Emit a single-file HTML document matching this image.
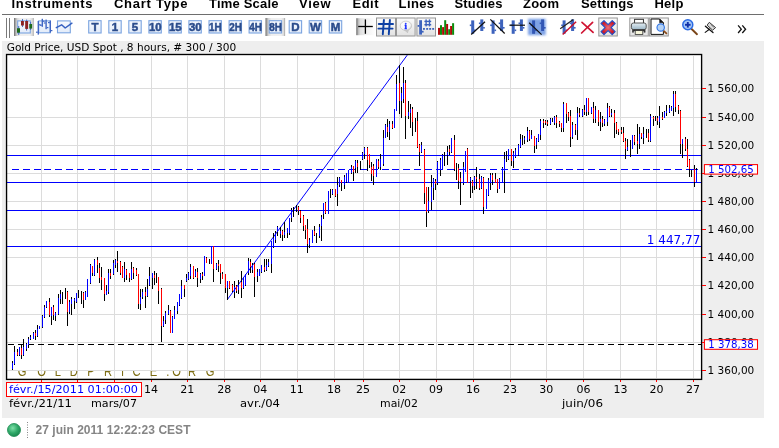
<!DOCTYPE html>
<html><head><meta charset="utf-8"><title>Gold Price chart</title>
<style>html,body{margin:0;padding:0;background:#fff;overflow:hidden}svg{display:block;will-change:transform}</style></head>
<body>
<svg width="779" height="448" viewBox="0 0 779 448">
<rect x="0" y="0" width="779" height="448" fill="#fff"/>
<rect x="2" y="41" width="762" height="377" fill="#eeeeee"/>
<rect x="2" y="14" width="762" height="1" fill="#6e6e6e"/>
<text x="11.5" y="7.6" font-family="'Liberation Sans','DejaVu Sans',sans-serif" font-size="13" fill="#000" font-weight="bold" text-anchor="start" textLength="81.0" lengthAdjust="spacing" >Instruments</text>
<text x="114" y="7.6" font-family="'Liberation Sans','DejaVu Sans',sans-serif" font-size="13" fill="#000" font-weight="bold" text-anchor="start" textLength="73.5" lengthAdjust="spacing" >Chart Type</text>
<text x="209" y="7.6" font-family="'Liberation Sans','DejaVu Sans',sans-serif" font-size="13" fill="#000" font-weight="bold" text-anchor="start" textLength="69.5" lengthAdjust="spacing" >Time Scale</text>
<text x="299" y="7.6" font-family="'Liberation Sans','DejaVu Sans',sans-serif" font-size="13" fill="#000" font-weight="bold" text-anchor="start" textLength="31.5" lengthAdjust="spacing" >View</text>
<text x="352.5" y="7.6" font-family="'Liberation Sans','DejaVu Sans',sans-serif" font-size="13" fill="#000" font-weight="bold" text-anchor="start" textLength="26.0" lengthAdjust="spacing" >Edit</text>
<text x="398.6" y="7.6" font-family="'Liberation Sans','DejaVu Sans',sans-serif" font-size="13" fill="#000" font-weight="bold" text-anchor="start" textLength="35.4" lengthAdjust="spacing" >Lines</text>
<text x="454.5" y="7.6" font-family="'Liberation Sans','DejaVu Sans',sans-serif" font-size="13" fill="#000" font-weight="bold" text-anchor="start" textLength="48.0" lengthAdjust="spacing" >Studies</text>
<text x="523" y="7.6" font-family="'Liberation Sans','DejaVu Sans',sans-serif" font-size="13" fill="#000" font-weight="bold" text-anchor="start" textLength="36" lengthAdjust="spacing" >Zoom</text>
<text x="581" y="7.6" font-family="'Liberation Sans','DejaVu Sans',sans-serif" font-size="13" fill="#000" font-weight="bold" text-anchor="start" textLength="52.5" lengthAdjust="spacing" >Settings</text>
<text x="654.4" y="7.6" font-family="'Liberation Sans','DejaVu Sans',sans-serif" font-size="13" fill="#000" font-weight="bold" text-anchor="start" textLength="29.1" lengthAdjust="spacing" >Help</text>
<defs><linearGradient id="pressL" x1="0" x2="1" y1="0" y2="0"><stop offset="0" stop-color="#6a6a6a"/><stop offset="0.07" stop-color="#a4a4a4"/><stop offset="0.16" stop-color="#d8d8d8"/><stop offset="0.3" stop-color="#efefef"/><stop offset="0.8" stop-color="#f1f1f1"/><stop offset="0.93" stop-color="#dadada"/><stop offset="1" stop-color="#9c9c9c"/></linearGradient><linearGradient id="pressP" x1="0" x2="1" y1="0" y2="0"><stop offset="0" stop-color="#505050"/><stop offset="0.08" stop-color="#b4b4b4"/><stop offset="0.2" stop-color="#dedede"/><stop offset="0.5" stop-color="#f0f0f0"/><stop offset="1" stop-color="#ffffff"/></linearGradient><linearGradient id="boxg" x1="0" x2="0" y1="0" y2="1"><stop offset="0" stop-color="#f7fafe"/><stop offset="1" stop-color="#e2ebf9"/></linearGradient><filter id="blur1" x="-20%" y="-20%" width="140%" height="140%"><feGaussianBlur stdDeviation="0.8"/></filter><filter id="blur05" x="-20%" y="-20%" width="140%" height="140%"><feGaussianBlur stdDeviation="0.45"/></filter><linearGradient id="btng" x1="0" x2="0" y1="0" y2="1"><stop offset="0" stop-color="#fbfbfb"/><stop offset="1" stop-color="#e2e2e2"/></linearGradient><radialGradient id="bub" cx="40%" cy="38%" r="70%"><stop offset="0" stop-color="#ffffff"/><stop offset="0.7" stop-color="#f4f4f4"/><stop offset="1" stop-color="#b8b8b8"/></radialGradient></defs>
<rect x="6" y="18" width="1" height="20" fill="#7a7a7a"/><rect x="9" y="18" width="1" height="20" fill="#7a7a7a"/>
<rect x="14" y="18" width="19.7" height="18" fill="url(#pressL)" filter="url(#blur05)"/>
<rect x="17.7" y="20.9" width="12.6" height="12.1" fill="url(#boxg)" stroke="#7ba4e0" stroke-width="1.1"/>
<g filter="url(#blur05)">
<rect x="18.3" y="26" width="0.9" height="9" fill="#3d63bd"/><rect x="22" y="19" width="0.9" height="8" fill="#3d63bd"/><rect x="26.2" y="19.5" width="0.9" height="11" fill="#3d63bd"/><rect x="30.2" y="22" width="0.9" height="8" fill="#3d63bd"/>
<rect x="17" y="28.2" width="3" height="4.5" fill="#1e6a1e"/><rect x="21" y="21" width="2.9" height="4.5" fill="#8c2222"/><rect x="25.2" y="21" width="2.9" height="7.9" fill="#8c2222"/><rect x="29.3" y="24" width="2.8" height="4.6" fill="#1e6a1e"/>
</g>
<rect x="38.7" y="20.9" width="11.6" height="11.9" fill="url(#boxg)" stroke="#7ba4e0" stroke-width="1.1"/>
<g filter="url(#blur05)" fill="#3f66c4">
<rect x="37.6" y="21" width="1.4" height="13.6"/><rect x="36" y="31.6" width="1.8" height="1.2"/><rect x="38.8" y="24.2" width="1.8" height="1.2"/>
<rect x="41.6" y="18.8" width="1.4" height="8"/><rect x="40" y="24.6" width="1.8" height="1.2"/><rect x="42.8" y="20.6" width="1.8" height="1.2"/>
<rect x="45.4" y="19.6" width="1.4" height="9.6"/><rect x="43.8" y="22.4" width="1.8" height="1.2"/><rect x="46.6" y="27" width="1.8" height="1.2"/>
<rect x="49.6" y="20.6" width="1.4" height="12"/><rect x="48" y="22" width="1.8" height="1.2"/><rect x="50.8" y="30" width="1.6" height="1.2"/>
</g>
<rect x="57.5" y="20.9" width="12.8" height="11.9" fill="url(#boxg)" stroke="#7ba4e0" stroke-width="1.1"/>
<polyline points="56.3,27.6 61.6,24.8 65.2,28 71.9,23.2" fill="none" stroke="#3560c0" stroke-width="1.5" stroke-linejoin="round" stroke-linecap="round"/>
<rect x="88.7" y="20.7" width="12.4" height="12.3" fill="url(#boxg)" stroke="#7ba4e0" stroke-width="1.1"/>
<text x="94.9" y="31" font-family="'Liberation Sans','DejaVu Sans',sans-serif" font-size="11.5" font-weight="bold" fill="#2b4c8c" stroke="#2b4c8c" stroke-width="0.5" text-anchor="middle">T</text>
<rect x="108.8" y="20.7" width="12.4" height="12.3" fill="url(#boxg)" stroke="#7ba4e0" stroke-width="1.1"/>
<text x="115.0" y="31" font-family="'Liberation Sans','DejaVu Sans',sans-serif" font-size="11.5" font-weight="bold" fill="#2b4c8c" stroke="#2b4c8c" stroke-width="0.5" text-anchor="middle">1</text>
<rect x="128.8" y="20.7" width="12.4" height="12.3" fill="url(#boxg)" stroke="#7ba4e0" stroke-width="1.1"/>
<text x="135.0" y="31" font-family="'Liberation Sans','DejaVu Sans',sans-serif" font-size="11.5" font-weight="bold" fill="#2b4c8c" stroke="#2b4c8c" stroke-width="0.5" text-anchor="middle">5</text>
<rect x="148.9" y="20.7" width="12.4" height="12.3" fill="url(#boxg)" stroke="#7ba4e0" stroke-width="1.1"/>
<text x="149.0" y="31" font-family="'Liberation Sans','DejaVu Sans',sans-serif" font-size="11.5" font-weight="bold" fill="#2b4c8c" stroke="#2b4c8c" stroke-width="0.5" textLength="12.6" lengthAdjust="spacingAndGlyphs">10</text>
<rect x="168.9" y="20.7" width="12.4" height="12.3" fill="url(#boxg)" stroke="#7ba4e0" stroke-width="1.1"/>
<text x="169.0" y="31" font-family="'Liberation Sans','DejaVu Sans',sans-serif" font-size="11.5" font-weight="bold" fill="#2b4c8c" stroke="#2b4c8c" stroke-width="0.5" textLength="12.6" lengthAdjust="spacingAndGlyphs">15</text>
<rect x="188.9" y="20.7" width="12.4" height="12.3" fill="url(#boxg)" stroke="#7ba4e0" stroke-width="1.1"/>
<text x="189.0" y="31" font-family="'Liberation Sans','DejaVu Sans',sans-serif" font-size="11.5" font-weight="bold" fill="#2b4c8c" stroke="#2b4c8c" stroke-width="0.5" textLength="12.6" lengthAdjust="spacingAndGlyphs">30</text>
<rect x="209.0" y="20.7" width="12.4" height="12.3" fill="url(#boxg)" stroke="#7ba4e0" stroke-width="1.1"/>
<text x="209.1" y="31" font-family="'Liberation Sans','DejaVu Sans',sans-serif" font-size="11.5" font-weight="bold" fill="#2b4c8c" stroke="#2b4c8c" stroke-width="0.5" textLength="12.6" lengthAdjust="spacingAndGlyphs">1H</text>
<rect x="229.1" y="20.7" width="12.4" height="12.3" fill="url(#boxg)" stroke="#7ba4e0" stroke-width="1.1"/>
<text x="229.2" y="31" font-family="'Liberation Sans','DejaVu Sans',sans-serif" font-size="11.5" font-weight="bold" fill="#2b4c8c" stroke="#2b4c8c" stroke-width="0.5" textLength="12.6" lengthAdjust="spacingAndGlyphs">2H</text>
<rect x="249.1" y="20.7" width="12.4" height="12.3" fill="url(#boxg)" stroke="#7ba4e0" stroke-width="1.1"/>
<text x="249.2" y="31" font-family="'Liberation Sans','DejaVu Sans',sans-serif" font-size="11.5" font-weight="bold" fill="#2b4c8c" stroke="#2b4c8c" stroke-width="0.5" textLength="12.6" lengthAdjust="spacingAndGlyphs">4H</text>
<rect x="265.5" y="18" width="19.6" height="18" fill="url(#pressL)" filter="url(#blur05)"/>
<rect x="269.2" y="20.7" width="12.4" height="12.3" fill="url(#boxg)" stroke="#7ba4e0" stroke-width="1.1"/>
<text x="269.3" y="31" font-family="'Liberation Sans','DejaVu Sans',sans-serif" font-size="11.5" font-weight="bold" fill="#2b4c8c" stroke="#2b4c8c" stroke-width="0.5" textLength="12.6" lengthAdjust="spacingAndGlyphs">8H</text>
<rect x="289.2" y="20.7" width="12.4" height="12.3" fill="url(#boxg)" stroke="#7ba4e0" stroke-width="1.1"/>
<text x="295.4" y="31" font-family="'Liberation Sans','DejaVu Sans',sans-serif" font-size="11.5" font-weight="bold" fill="#2b4c8c" stroke="#2b4c8c" stroke-width="0.5" text-anchor="middle">D</text>
<rect x="309.2" y="20.7" width="12.4" height="12.3" fill="url(#boxg)" stroke="#7ba4e0" stroke-width="1.1"/>
<text x="315.4" y="31" font-family="'Liberation Sans','DejaVu Sans',sans-serif" font-size="11.5" font-weight="bold" fill="#2b4c8c" stroke="#2b4c8c" stroke-width="0.5" text-anchor="middle">W</text>
<rect x="329.3" y="20.7" width="12.4" height="12.3" fill="url(#boxg)" stroke="#7ba4e0" stroke-width="1.1"/>
<text x="335.5" y="31" font-family="'Liberation Sans','DejaVu Sans',sans-serif" font-size="11.5" font-weight="bold" fill="#2b4c8c" stroke="#2b4c8c" stroke-width="0.5" text-anchor="middle">M</text>
<rect x="356.4" y="18.2" width="19" height="17" fill="url(#pressP)" filter="url(#blur05)"/>
<line x1="358.2" y1="26.5" x2="372.8" y2="26.5" stroke="#000" stroke-width="1.3"/><line x1="365.4" y1="19.4" x2="365.4" y2="33.8" stroke="#000" stroke-width="1.3"/>
<rect x="376.5" y="18" width="19" height="18" fill="url(#btng)" stroke="#969696" stroke-width="1"/>
<g stroke="#1040a4" stroke-width="1.95" stroke-linecap="round" filter="url(#blur05)"><line x1="378.8" y1="24" x2="393" y2="24"/><line x1="378.4" y1="28.6" x2="392.6" y2="28.6"/><line x1="383.9" y1="20" x2="382.8" y2="34.2"/><line x1="389.9" y1="20" x2="388.8" y2="34.2"/></g>
<rect x="396.5" y="18" width="18.600000000000023" height="18" fill="url(#btng)" stroke="#969696" stroke-width="1"/>
<path d="M404.2 29.8 L407.6 32.6 L408.4 29.4 Z" fill="#d0d0d0" stroke="#b4b4b4" stroke-width="0.6"/>
<ellipse cx="405.9" cy="25.8" rx="5.7" ry="4.7" fill="url(#bub)" stroke="#c2c2c2" stroke-width="0.7"/>
<text x="405.8" y="29" font-family="'Liberation Serif',serif" font-size="8.5" font-weight="bold" fill="#1428ff" stroke="#1428ff" stroke-width="0.4" text-anchor="middle">i</text>
<rect x="416.9" y="18" width="18.600000000000023" height="18" fill="url(#btng)" stroke="#969696" stroke-width="1"/>
<g filter="url(#blur05)" fill="#3d63bd"><rect x="419.2" y="20.2" width="2.8" height="14.4"/><rect x="417.6" y="25" width="1.8" height="1.8"/><rect x="421.8" y="30.8" width="1.8" height="1.8"/>
<rect x="424.4" y="20.7" width="6.8" height="1.4"/><rect x="424.4" y="24" width="6.8" height="1.4"/><rect x="425.4" y="19.4" width="1.4" height="7"/><rect x="428.8" y="19.4" width="1.4" height="7"/></g>
<g fill="#3d63bd"><rect x="423" y="28" width="1.9" height="1.8"/><rect x="426.2" y="28" width="1.9" height="1.8"/><rect x="429.2" y="28" width="1.9" height="1.8"/><rect x="432.2" y="28" width="1.9" height="1.8"/></g>
<rect x="438" y="27.9" width="2" height="6.9" fill="#b00808"/>
<rect x="440" y="25.2" width="2" height="9.6" fill="#0c8c0c"/>
<rect x="442.1" y="27.1" width="2" height="7.7" fill="#b00808"/>
<rect x="444.2" y="20.2" width="2" height="14.6" fill="#0c8c0c"/>
<rect x="446.1" y="24" width="2" height="10.8" fill="#b00808"/>
<rect x="448.2" y="29.2" width="2" height="5.6" fill="#0c8c0c"/>
<rect x="450.1" y="26" width="2" height="8.8" fill="#b00808"/>
<rect x="452.1" y="23.2" width="2" height="11.6" fill="#0c8c0c"/>
<g filter="url(#blur05)" fill="#3d63bd"><rect x="471.2" y="20.4" width="3" height="13.4"/><rect x="469.8" y="24.5" width="1.8" height="1.6"/><rect x="474.0" y="29.5" width="1.7" height="1.6"/><rect x="480.3" y="19.4" width="3" height="11.6"/><rect x="478.9" y="22.5" width="1.8" height="1.6"/><rect x="483.1" y="27" width="1.7" height="1.6"/></g>
<line x1="471.2" y1="34.5" x2="485" y2="21.8" stroke="#111" stroke-width="1.2"/>
<g filter="url(#blur05)" fill="#3d63bd"><rect x="491.6" y="20.4" width="3" height="13.4"/><rect x="490.2" y="24.5" width="1.8" height="1.6"/><rect x="494.4" y="29.5" width="1.7" height="1.6"/><rect x="500.1" y="19.4" width="3" height="11.6"/><rect x="498.7" y="22.5" width="1.8" height="1.6"/><rect x="502.9" y="27" width="1.7" height="1.6"/></g>
<line x1="490.3" y1="19.4" x2="504.7" y2="33.5" stroke="#111" stroke-width="1.2"/>
<g filter="url(#blur05)" fill="#3d63bd"><rect x="511.7" y="20.4" width="3" height="13.4"/><rect x="510.3" y="24.5" width="1.8" height="1.6"/><rect x="514.5" y="29.5" width="1.7" height="1.6"/><rect x="519.9" y="19.4" width="3" height="11.6"/><rect x="518.5" y="22.5" width="1.8" height="1.6"/><rect x="522.7" y="27" width="1.7" height="1.6"/></g>
<line x1="509.4" y1="25.2" x2="525" y2="25.2" stroke="#111" stroke-width="1.2"/>
<rect x="528" y="18.8" width="17.8" height="16.4" fill="#7fa3e6" filter="url(#blur1)"/>
<g filter="url(#blur05)" fill="#3156b4"><rect x="532.1" y="20.4" width="3" height="13.4"/><rect x="530.7" y="24.5" width="1.8" height="1.6"/><rect x="534.9" y="29.5" width="1.7" height="1.6"/><rect x="541.1" y="19.4" width="3" height="11.6"/><rect x="539.7" y="22.5" width="1.8" height="1.6"/><rect x="543.9" y="27" width="1.7" height="1.6"/></g>
<line x1="529.2" y1="22.8" x2="541.6" y2="34.6" stroke="#111" stroke-width="1.2"/>
<g filter="url(#blur05)" fill="#3d63bd"><rect x="562.6" y="20.4" width="3" height="13.4"/><rect x="561.2" y="24.5" width="1.8" height="1.6"/><rect x="565.4" y="29.5" width="1.7" height="1.6"/><rect x="571.1" y="19.4" width="3" height="11.6"/><rect x="569.7" y="22.5" width="1.8" height="1.6"/><rect x="573.9" y="27" width="1.7" height="1.6"/></g>
<line x1="560.2" y1="28.8" x2="573.3" y2="19.4" stroke="#222" stroke-width="1.2"/>
<line x1="562.7" y1="34.5" x2="576.1" y2="21.8" stroke="#c8102a" stroke-width="1.5"/>
<g stroke="#d01433" stroke-width="1.7" stroke-linecap="round"><line x1="582" y1="22.3" x2="593.1" y2="32.4"/><line x1="592.6" y1="22.3" x2="581.6" y2="33"/></g>
<rect x="598.8" y="18" width="18.5" height="18" fill="url(#btng)" stroke="#969696" stroke-width="1"/>
<defs><radialGradient id="xg" cx="50%" cy="50%" r="60%"><stop offset="0" stop-color="#e87078"/><stop offset="0.6" stop-color="#d02030"/><stop offset="1" stop-color="#c01020"/></radialGradient></defs>
<g transform="translate(608.1,27.6) rotate(45)"><path d="M-7.9 -2.1 H-2.1 V-7.9 H2.1 V-2.1 H7.9 V2.1 H2.1 V7.9 H-2.1 V2.1 H-7.9 Z" fill="url(#xg)" stroke="#1f50c8" stroke-width="1.1" stroke-linejoin="round"/></g>
<rect x="629.8" y="18" width="18.5" height="18" fill="url(#btng)" stroke="#969696" stroke-width="1"/>
<rect x="634.6" y="19.3" width="8.8" height="4.4" fill="#ffffff" stroke="#222" stroke-width="0.9"/>
<defs><linearGradient id="prg" x1="0" x2="0" y1="0" y2="1"><stop offset="0" stop-color="#e4eef4"/><stop offset="1" stop-color="#9cb6c6"/></linearGradient></defs>
<rect x="631.4" y="23" width="14.8" height="6.6" rx="2" fill="url(#prg)" stroke="#444" stroke-width="0.9"/>
<rect x="632.2" y="29.4" width="13.2" height="1.8" fill="#333"/><rect x="632.2" y="31" width="1.6" height="1.6" fill="#333"/><rect x="643.8" y="31" width="1.6" height="1.6" fill="#333"/>
<rect x="635.2" y="30.6" width="7.6" height="3.8" fill="#f6f6dc" stroke="#333" stroke-width="0.8"/>
<rect x="649.3" y="18" width="19.0" height="18" fill="url(#btng)" stroke="#969696" stroke-width="1"/>
<path d="M651 19 H659.6 L663.4 22.8 V34.4 H651 Z" fill="#fff" stroke="#111" stroke-width="1"/><path d="M659.6 19 V22.8 H663.4 Z" fill="#111" stroke="#111" stroke-width="0.5"/>
<line x1="663.4" y1="30.6" x2="666.4" y2="33.4" stroke="#8a4a1a" stroke-width="1.8" stroke-linecap="round"/><circle cx="660.7" cy="27.5" r="3.7" fill="#b4d2f6" stroke="#3a7ae4" stroke-width="1.2"/>
<line x1="691.6" y1="29" x2="697" y2="34.2" stroke="#7a4518" stroke-width="1.9" stroke-linecap="round"/>
<circle cx="687.8" cy="24.8" r="5" fill="#a4c6f6" stroke="#2a6ae4" stroke-width="1.5"/>
<g stroke="#1030a8" stroke-width="1.9"><line x1="685" y1="24.8" x2="690.6" y2="24.8"/><line x1="687.8" y1="22" x2="687.8" y2="27.6"/></g>
<g stroke-linecap="round"><path d="M709.6 22.6 L715.6 27.6 L712.6 30.2 L707.4 25.4 Z" fill="#dcdcdc" stroke="#222" stroke-width="0.9"/><line x1="705.4" y1="26.2" x2="713" y2="32.6" stroke="#111" stroke-width="1.3"/><line x1="709.4" y1="29.2" x2="705.2" y2="32.4" stroke="#111" stroke-width="1.1"/><line x1="711" y1="24.6" x2="713.6" y2="27" stroke="#555" stroke-width="0.8"/></g>
<g fill="none" stroke="#111" stroke-width="1.3"><polyline points="738.1,25.4 741.3,29.2 738.1,33"/><polyline points="742.3,25.4 745.6,29.2 742.3,33"/></g>
<text x="6.7" y="50.6" font-family="'DejaVu Sans','Liberation Sans',sans-serif" font-size="11" fill="#000" font-weight="normal" text-anchor="start" textLength="229.5" lengthAdjust="spacingAndGlyphs" >Gold Price, USD Spot , 8 hours, # 300 / 300</text>
<g shape-rendering="crispEdges">
<rect x="6" y="54" width="696" height="326" fill="#fff"/>
<rect x="41" y="56" width="1" height="322" fill="#dcdcdc"/>
<rect x="77" y="56" width="1" height="322" fill="#dcdcdc"/>
<rect x="114" y="56" width="1" height="322" fill="#dcdcdc"/>
<rect x="151" y="56" width="1" height="322" fill="#dcdcdc"/>
<rect x="187" y="56" width="1" height="322" fill="#dcdcdc"/>
<rect x="224" y="56" width="1" height="322" fill="#dcdcdc"/>
<rect x="260" y="56" width="1" height="322" fill="#dcdcdc"/>
<rect x="297" y="56" width="1" height="322" fill="#dcdcdc"/>
<rect x="334" y="56" width="1" height="322" fill="#dcdcdc"/>
<rect x="363" y="56" width="1" height="322" fill="#dcdcdc"/>
<rect x="399" y="56" width="1" height="322" fill="#dcdcdc"/>
<rect x="436" y="56" width="1" height="322" fill="#dcdcdc"/>
<rect x="473" y="56" width="1" height="322" fill="#dcdcdc"/>
<rect x="510" y="56" width="1" height="322" fill="#dcdcdc"/>
<rect x="546" y="56" width="1" height="322" fill="#dcdcdc"/>
<rect x="583" y="56" width="1" height="322" fill="#dcdcdc"/>
<rect x="620" y="56" width="1" height="322" fill="#dcdcdc"/>
<rect x="656" y="56" width="1" height="322" fill="#dcdcdc"/>
<rect x="693" y="56" width="1" height="322" fill="#dcdcdc"/>
<rect x="7" y="88" width="694" height="1" fill="#dcdcdc"/>
<rect x="7" y="117" width="694" height="1" fill="#dcdcdc"/>
<rect x="7" y="145" width="694" height="1" fill="#dcdcdc"/>
<rect x="7" y="173" width="694" height="1" fill="#dcdcdc"/>
<rect x="7" y="201" width="694" height="1" fill="#dcdcdc"/>
<rect x="7" y="229" width="694" height="1" fill="#dcdcdc"/>
<rect x="7" y="257" width="694" height="1" fill="#dcdcdc"/>
<rect x="7" y="285" width="694" height="1" fill="#dcdcdc"/>
<rect x="7" y="314" width="694" height="1" fill="#dcdcdc"/>
<rect x="7" y="342" width="694" height="1" fill="#dcdcdc"/>
<rect x="7" y="370" width="694" height="1" fill="#dcdcdc"/>
<rect x="7" y="155" width="694" height="1" fill="#0000ff"/>
<rect x="7" y="182" width="694" height="1" fill="#0000ff"/>
<rect x="7" y="210" width="694" height="1" fill="#0000ff"/>
<rect x="7" y="246" width="694" height="1" fill="#0000ff"/>
<line x1="11.8" y1="169.5" x2="697.5" y2="169.5" stroke="#0000ff" stroke-width="1" stroke-dasharray="7,3.875"/>
<rect x="691" y="169" width="7" height="1" fill="#0000ff"/>
<line x1="8" y1="344.5" x2="701" y2="344.5" stroke="#000" stroke-width="1" stroke-dasharray="6,4"/>
</g>
<line x1="227.4" y1="299.5" x2="407.2" y2="55.2" stroke="#0000ff" stroke-width="1"/>
<g shape-rendering="crispEdges">
<rect x="12" y="361" width="1" height="9" fill="#000"/>
<rect x="12" y="363" width="1" height="6" fill="#0000ff"/>
<rect x="14" y="346" width="1" height="19" fill="#000"/>
<rect x="14" y="352" width="1" height="12" fill="#0000ff"/>
<rect x="17" y="349" width="1" height="7" fill="#000"/>
<rect x="17" y="352" width="1" height="3" fill="#ff0000"/>
<rect x="19" y="347" width="1" height="9" fill="#000"/>
<rect x="19" y="347" width="1" height="8" fill="#0000ff"/>
<rect x="21" y="344" width="1" height="15" fill="#000"/>
<rect x="21" y="348" width="1" height="7" fill="#ff0000"/>
<rect x="23" y="339" width="1" height="17" fill="#000"/>
<rect x="23" y="347" width="1" height="8" fill="#0000ff"/>
<rect x="26" y="343" width="1" height="8" fill="#000"/>
<rect x="26" y="344" width="1" height="5" fill="#0000ff"/>
<rect x="28" y="337" width="1" height="11" fill="#000"/>
<rect x="28" y="339" width="1" height="6" fill="#0000ff"/>
<rect x="30" y="335" width="1" height="5" fill="#000"/>
<rect x="30" y="337" width="1" height="2" fill="#0000ff"/>
<rect x="33" y="332" width="1" height="7" fill="#000"/>
<rect x="33" y="333" width="1" height="6" fill="#0000ff"/>
<rect x="35" y="330" width="1" height="10" fill="#000"/>
<rect x="35" y="333" width="1" height="3" fill="#ff0000"/>
<rect x="37" y="325" width="1" height="12" fill="#000"/>
<rect x="37" y="329" width="1" height="7" fill="#0000ff"/>
<rect x="39" y="326" width="1" height="3" fill="#000"/>
<rect x="39" y="326" width="1" height="3" fill="#0000ff"/>
<rect x="42" y="315" width="1" height="13" fill="#000"/>
<rect x="42" y="316" width="1" height="11" fill="#0000ff"/>
<rect x="44" y="305" width="1" height="13" fill="#000"/>
<rect x="44" y="307" width="1" height="10" fill="#0000ff"/>
<rect x="46" y="301" width="1" height="7" fill="#000"/>
<rect x="46" y="301" width="1" height="6" fill="#0000ff"/>
<rect x="49" y="298" width="1" height="19" fill="#000"/>
<rect x="49" y="302" width="1" height="13" fill="#ff0000"/>
<rect x="51" y="307" width="1" height="18" fill="#000"/>
<rect x="51" y="307" width="1" height="9" fill="#0000ff"/>
<rect x="53" y="305" width="1" height="15" fill="#000"/>
<rect x="53" y="307" width="1" height="8" fill="#ff0000"/>
<rect x="55" y="312" width="1" height="9" fill="#000"/>
<rect x="55" y="313" width="1" height="3" fill="#0000ff"/>
<rect x="58" y="294" width="1" height="21" fill="#000"/>
<rect x="58" y="298" width="1" height="16" fill="#0000ff"/>
<rect x="60" y="290" width="1" height="14" fill="#000"/>
<rect x="60" y="294" width="1" height="5" fill="#0000ff"/>
<rect x="62" y="292" width="1" height="12" fill="#000"/>
<rect x="65" y="288" width="1" height="11" fill="#000"/>
<rect x="67" y="291" width="1" height="35" fill="#000"/>
<rect x="67" y="292" width="1" height="20" fill="#ff0000"/>
<rect x="69" y="300" width="1" height="14" fill="#000"/>
<rect x="69" y="302" width="1" height="10" fill="#0000ff"/>
<rect x="71" y="297" width="1" height="18" fill="#000"/>
<rect x="71" y="299" width="1" height="5" fill="#0000ff"/>
<rect x="74" y="298" width="1" height="11" fill="#000"/>
<rect x="74" y="299" width="1" height="2" fill="#0000ff"/>
<rect x="76" y="293" width="1" height="10" fill="#000"/>
<rect x="76" y="293" width="1" height="9" fill="#0000ff"/>
<rect x="78" y="290" width="1" height="8" fill="#000"/>
<rect x="81" y="291" width="1" height="13" fill="#000"/>
<rect x="83" y="292" width="1" height="16" fill="#000"/>
<rect x="83" y="293" width="1" height="7" fill="#ff0000"/>
<rect x="85" y="291" width="1" height="9" fill="#000"/>
<rect x="85" y="292" width="1" height="8" fill="#0000ff"/>
<rect x="87" y="279" width="1" height="18" fill="#000"/>
<rect x="87" y="279" width="1" height="18" fill="#0000ff"/>
<rect x="90" y="264" width="1" height="20" fill="#000"/>
<rect x="90" y="265" width="1" height="18" fill="#0000ff"/>
<rect x="92" y="266" width="1" height="10" fill="#000"/>
<rect x="92" y="266" width="1" height="7" fill="#ff0000"/>
<rect x="94" y="259" width="1" height="17" fill="#000"/>
<rect x="94" y="260" width="1" height="15" fill="#0000ff"/>
<rect x="97" y="257" width="1" height="16" fill="#000"/>
<rect x="97" y="260" width="1" height="5" fill="#ff0000"/>
<rect x="99" y="263" width="1" height="20" fill="#000"/>
<rect x="99" y="268" width="1" height="10" fill="#ff0000"/>
<rect x="101" y="267" width="1" height="23" fill="#000"/>
<rect x="101" y="277" width="1" height="3" fill="#ff0000"/>
<rect x="104" y="278" width="1" height="23" fill="#000"/>
<rect x="104" y="278" width="1" height="16" fill="#ff0000"/>
<rect x="106" y="285" width="1" height="10" fill="#000"/>
<rect x="106" y="291" width="1" height="4" fill="#0000ff"/>
<rect x="108" y="269" width="1" height="25" fill="#000"/>
<rect x="108" y="273" width="1" height="19" fill="#0000ff"/>
<rect x="110" y="269" width="1" height="10" fill="#000"/>
<rect x="110" y="273" width="1" height="3" fill="#ff0000"/>
<rect x="113" y="260" width="1" height="15" fill="#000"/>
<rect x="113" y="263" width="1" height="11" fill="#0000ff"/>
<rect x="115" y="259" width="1" height="9" fill="#000"/>
<rect x="115" y="260" width="1" height="5" fill="#0000ff"/>
<rect x="117" y="251" width="1" height="21" fill="#000"/>
<rect x="117" y="261" width="1" height="2" fill="#ff0000"/>
<rect x="120" y="261" width="1" height="14" fill="#000"/>
<rect x="120" y="262" width="1" height="11" fill="#ff0000"/>
<rect x="122" y="266" width="1" height="12" fill="#000"/>
<rect x="122" y="267" width="1" height="11" fill="#ff0000"/>
<rect x="124" y="262" width="1" height="20" fill="#000"/>
<rect x="124" y="269" width="1" height="9" fill="#0000ff"/>
<rect x="126" y="269" width="1" height="11" fill="#000"/>
<rect x="126" y="270" width="1" height="5" fill="#ff0000"/>
<rect x="129" y="273" width="1" height="9" fill="#000"/>
<rect x="129" y="273" width="1" height="5" fill="#ff0000"/>
<rect x="131" y="262" width="1" height="18" fill="#000"/>
<rect x="131" y="269" width="1" height="10" fill="#0000ff"/>
<rect x="133" y="267" width="1" height="12" fill="#000"/>
<rect x="133" y="268" width="1" height="5" fill="#ff0000"/>
<rect x="136" y="268" width="1" height="8" fill="#000"/>
<rect x="136" y="270" width="1" height="5" fill="#ff0000"/>
<rect x="138" y="274" width="1" height="35" fill="#000"/>
<rect x="138" y="274" width="1" height="30" fill="#ff0000"/>
<rect x="140" y="289" width="1" height="21" fill="#000"/>
<rect x="140" y="297" width="1" height="7" fill="#0000ff"/>
<rect x="142" y="289" width="1" height="10" fill="#000"/>
<rect x="142" y="292" width="1" height="5" fill="#0000ff"/>
<rect x="145" y="287" width="1" height="21" fill="#000"/>
<rect x="145" y="292" width="1" height="4" fill="#ff0000"/>
<rect x="147" y="279" width="1" height="18" fill="#000"/>
<rect x="147" y="289" width="1" height="7" fill="#0000ff"/>
<rect x="149" y="267" width="1" height="19" fill="#000"/>
<rect x="149" y="276" width="1" height="9" fill="#0000ff"/>
<rect x="152" y="273" width="1" height="16" fill="#000"/>
<rect x="152" y="273" width="1" height="5" fill="#0000ff"/>
<rect x="154" y="271" width="1" height="14" fill="#000"/>
<rect x="154" y="275" width="1" height="3" fill="#ff0000"/>
<rect x="156" y="273" width="1" height="10" fill="#000"/>
<rect x="158" y="277" width="1" height="27" fill="#000"/>
<rect x="158" y="277" width="1" height="14" fill="#ff0000"/>
<rect x="161" y="288" width="1" height="54" fill="#000"/>
<rect x="161" y="289" width="1" height="37" fill="#ff0000"/>
<rect x="163" y="316" width="1" height="11" fill="#000"/>
<rect x="163" y="321" width="1" height="5" fill="#0000ff"/>
<rect x="165" y="311" width="1" height="13" fill="#000"/>
<rect x="165" y="313" width="1" height="7" fill="#0000ff"/>
<rect x="168" y="305" width="1" height="10" fill="#000"/>
<rect x="168" y="310" width="1" height="4" fill="#0000ff"/>
<rect x="170" y="310" width="1" height="23" fill="#000"/>
<rect x="170" y="311" width="1" height="22" fill="#ff0000"/>
<rect x="172" y="316" width="1" height="17" fill="#000"/>
<rect x="172" y="317" width="1" height="16" fill="#0000ff"/>
<rect x="174" y="306" width="1" height="13" fill="#000"/>
<rect x="174" y="310" width="1" height="9" fill="#0000ff"/>
<rect x="177" y="302" width="1" height="12" fill="#000"/>
<rect x="177" y="302" width="1" height="9" fill="#0000ff"/>
<rect x="179" y="294" width="1" height="12" fill="#000"/>
<rect x="179" y="294" width="1" height="11" fill="#0000ff"/>
<rect x="181" y="280" width="1" height="19" fill="#000"/>
<rect x="181" y="286" width="1" height="12" fill="#0000ff"/>
<rect x="184" y="285" width="1" height="12" fill="#000"/>
<rect x="184" y="285" width="1" height="4" fill="#ff0000"/>
<rect x="186" y="274" width="1" height="8" fill="#000"/>
<rect x="186" y="278" width="1" height="3" fill="#0000ff"/>
<rect x="188" y="272" width="1" height="8" fill="#000"/>
<rect x="188" y="273" width="1" height="6" fill="#0000ff"/>
<rect x="190" y="264" width="1" height="15" fill="#000"/>
<rect x="190" y="267" width="1" height="9" fill="#0000ff"/>
<rect x="193" y="266" width="1" height="13" fill="#000"/>
<rect x="193" y="266" width="1" height="12" fill="#ff0000"/>
<rect x="195" y="269" width="1" height="8" fill="#000"/>
<rect x="195" y="271" width="1" height="5" fill="#0000ff"/>
<rect x="197" y="268" width="1" height="19" fill="#000"/>
<rect x="197" y="272" width="1" height="6" fill="#ff0000"/>
<rect x="200" y="273" width="1" height="10" fill="#000"/>
<rect x="200" y="274" width="1" height="5" fill="#0000ff"/>
<rect x="202" y="272" width="1" height="8" fill="#000"/>
<rect x="202" y="274" width="1" height="2" fill="#ff0000"/>
<rect x="204" y="256" width="1" height="20" fill="#000"/>
<rect x="204" y="256" width="1" height="20" fill="#0000ff"/>
<rect x="206" y="257" width="1" height="6" fill="#000"/>
<rect x="206" y="258" width="1" height="5" fill="#ff0000"/>
<rect x="209" y="259" width="1" height="5" fill="#000"/>
<rect x="211" y="246" width="1" height="18" fill="#000"/>
<rect x="211" y="246" width="1" height="18" fill="#0000ff"/>
<rect x="213" y="246" width="1" height="36" fill="#000"/>
<rect x="213" y="246" width="1" height="23" fill="#ff0000"/>
<rect x="216" y="263" width="1" height="7" fill="#000"/>
<rect x="216" y="264" width="1" height="5" fill="#0000ff"/>
<rect x="218" y="260" width="1" height="12" fill="#000"/>
<rect x="218" y="264" width="1" height="2" fill="#ff0000"/>
<rect x="220" y="264" width="1" height="20" fill="#000"/>
<rect x="220" y="264" width="1" height="9" fill="#ff0000"/>
<rect x="222" y="272" width="1" height="7" fill="#000"/>
<rect x="222" y="274" width="1" height="5" fill="#ff0000"/>
<rect x="225" y="274" width="1" height="19" fill="#000"/>
<rect x="225" y="274" width="1" height="14" fill="#ff0000"/>
<rect x="227" y="281" width="1" height="19" fill="#000"/>
<rect x="227" y="281" width="1" height="7" fill="#0000ff"/>
<rect x="229" y="281" width="1" height="8" fill="#000"/>
<rect x="229" y="281" width="1" height="7" fill="#ff0000"/>
<rect x="232" y="284" width="1" height="8" fill="#000"/>
<rect x="232" y="285" width="1" height="6" fill="#ff0000"/>
<rect x="234" y="281" width="1" height="17" fill="#000"/>
<rect x="234" y="287" width="1" height="5" fill="#0000ff"/>
<rect x="236" y="285" width="1" height="8" fill="#000"/>
<rect x="236" y="286" width="1" height="5" fill="#ff0000"/>
<rect x="238" y="280" width="1" height="14" fill="#000"/>
<rect x="238" y="285" width="1" height="5" fill="#0000ff"/>
<rect x="241" y="271" width="1" height="27" fill="#000"/>
<rect x="241" y="282" width="1" height="6" fill="#ff0000"/>
<rect x="243" y="277" width="1" height="12" fill="#000"/>
<rect x="243" y="277" width="1" height="11" fill="#0000ff"/>
<rect x="245" y="274" width="1" height="12" fill="#000"/>
<rect x="245" y="274" width="1" height="11" fill="#0000ff"/>
<rect x="248" y="258" width="1" height="17" fill="#000"/>
<rect x="248" y="261" width="1" height="12" fill="#0000ff"/>
<rect x="250" y="259" width="1" height="14" fill="#000"/>
<rect x="250" y="262" width="1" height="5" fill="#ff0000"/>
<rect x="252" y="263" width="1" height="10" fill="#000"/>
<rect x="252" y="265" width="1" height="5" fill="#0000ff"/>
<rect x="254" y="263" width="1" height="34" fill="#000"/>
<rect x="254" y="264" width="1" height="13" fill="#ff0000"/>
<rect x="257" y="269" width="1" height="13" fill="#000"/>
<rect x="257" y="272" width="1" height="4" fill="#0000ff"/>
<rect x="259" y="269" width="1" height="7" fill="#000"/>
<rect x="259" y="269" width="1" height="7" fill="#0000ff"/>
<rect x="261" y="265" width="1" height="8" fill="#000"/>
<rect x="261" y="265" width="1" height="7" fill="#0000ff"/>
<rect x="264" y="259" width="1" height="13" fill="#000"/>
<rect x="264" y="267" width="1" height="3" fill="#ff0000"/>
<rect x="266" y="259" width="1" height="12" fill="#000"/>
<rect x="266" y="265" width="1" height="5" fill="#0000ff"/>
<rect x="268" y="259" width="1" height="8" fill="#000"/>
<rect x="268" y="262" width="1" height="4" fill="#0000ff"/>
<rect x="271" y="241" width="1" height="32" fill="#000"/>
<rect x="271" y="241" width="1" height="23" fill="#0000ff"/>
<rect x="273" y="233" width="1" height="15" fill="#000"/>
<rect x="273" y="238" width="1" height="9" fill="#0000ff"/>
<rect x="275" y="231" width="1" height="12" fill="#000"/>
<rect x="275" y="233" width="1" height="7" fill="#0000ff"/>
<rect x="277" y="226" width="1" height="10" fill="#000"/>
<rect x="277" y="227" width="1" height="5" fill="#0000ff"/>
<rect x="280" y="227" width="1" height="11" fill="#000"/>
<rect x="280" y="231" width="1" height="3" fill="#0000ff"/>
<rect x="282" y="230" width="1" height="11" fill="#000"/>
<rect x="282" y="231" width="1" height="4" fill="#ff0000"/>
<rect x="284" y="222" width="1" height="16" fill="#000"/>
<rect x="284" y="232" width="1" height="3" fill="#0000ff"/>
<rect x="287" y="228" width="1" height="10" fill="#000"/>
<rect x="287" y="228" width="1" height="5" fill="#0000ff"/>
<rect x="289" y="218" width="1" height="17" fill="#000"/>
<rect x="289" y="218" width="1" height="15" fill="#0000ff"/>
<rect x="291" y="208" width="1" height="14" fill="#000"/>
<rect x="291" y="210" width="1" height="8" fill="#0000ff"/>
<rect x="293" y="207" width="1" height="10" fill="#000"/>
<rect x="296" y="205" width="1" height="7" fill="#000"/>
<rect x="298" y="206" width="1" height="9" fill="#000"/>
<rect x="298" y="207" width="1" height="4" fill="#ff0000"/>
<rect x="300" y="210" width="1" height="13" fill="#000"/>
<rect x="300" y="211" width="1" height="7" fill="#ff0000"/>
<rect x="303" y="215" width="1" height="16" fill="#000"/>
<rect x="303" y="216" width="1" height="10" fill="#ff0000"/>
<rect x="305" y="225" width="1" height="14" fill="#000"/>
<rect x="305" y="225" width="1" height="5" fill="#ff0000"/>
<rect x="307" y="219" width="1" height="34" fill="#000"/>
<rect x="307" y="229" width="1" height="15" fill="#ff0000"/>
<rect x="309" y="238" width="1" height="10" fill="#000"/>
<rect x="309" y="240" width="1" height="5" fill="#0000ff"/>
<rect x="312" y="230" width="1" height="13" fill="#000"/>
<rect x="312" y="230" width="1" height="13" fill="#0000ff"/>
<rect x="314" y="226" width="1" height="10" fill="#000"/>
<rect x="314" y="231" width="1" height="4" fill="#ff0000"/>
<rect x="316" y="233" width="1" height="10" fill="#000"/>
<rect x="319" y="224" width="1" height="14" fill="#000"/>
<rect x="319" y="227" width="1" height="9" fill="#0000ff"/>
<rect x="321" y="215" width="1" height="26" fill="#000"/>
<rect x="321" y="217" width="1" height="9" fill="#0000ff"/>
<rect x="323" y="203" width="1" height="16" fill="#000"/>
<rect x="323" y="203" width="1" height="11" fill="#0000ff"/>
<rect x="325" y="202" width="1" height="12" fill="#000"/>
<rect x="325" y="203" width="1" height="10" fill="#ff0000"/>
<rect x="328" y="191" width="1" height="23" fill="#000"/>
<rect x="328" y="191" width="1" height="23" fill="#0000ff"/>
<rect x="330" y="189" width="1" height="9" fill="#000"/>
<rect x="332" y="189" width="1" height="6" fill="#000"/>
<rect x="332" y="190" width="1" height="4" fill="#0000ff"/>
<rect x="335" y="189" width="1" height="8" fill="#000"/>
<rect x="335" y="189" width="1" height="7" fill="#ff0000"/>
<rect x="337" y="177" width="1" height="29" fill="#000"/>
<rect x="337" y="185" width="1" height="9" fill="#0000ff"/>
<rect x="339" y="177" width="1" height="10" fill="#000"/>
<rect x="339" y="178" width="1" height="7" fill="#0000ff"/>
<rect x="341" y="180" width="1" height="11" fill="#000"/>
<rect x="341" y="180" width="1" height="3" fill="#ff0000"/>
<rect x="344" y="175" width="1" height="14" fill="#000"/>
<rect x="344" y="177" width="1" height="8" fill="#0000ff"/>
<rect x="346" y="173" width="1" height="10" fill="#000"/>
<rect x="346" y="173" width="1" height="9" fill="#0000ff"/>
<rect x="348" y="170" width="1" height="12" fill="#000"/>
<rect x="348" y="170" width="1" height="12" fill="#0000ff"/>
<rect x="351" y="165" width="1" height="9" fill="#000"/>
<rect x="351" y="167" width="1" height="6" fill="#0000ff"/>
<rect x="353" y="166" width="1" height="15" fill="#000"/>
<rect x="353" y="166" width="1" height="6" fill="#ff0000"/>
<rect x="355" y="160" width="1" height="13" fill="#000"/>
<rect x="355" y="161" width="1" height="7" fill="#0000ff"/>
<rect x="357" y="160" width="1" height="13" fill="#000"/>
<rect x="357" y="163" width="1" height="4" fill="#ff0000"/>
<rect x="360" y="161" width="1" height="9" fill="#000"/>
<rect x="362" y="152" width="1" height="8" fill="#000"/>
<rect x="362" y="153" width="1" height="6" fill="#0000ff"/>
<rect x="364" y="147" width="1" height="12" fill="#000"/>
<rect x="364" y="148" width="1" height="6" fill="#0000ff"/>
<rect x="367" y="147" width="1" height="24" fill="#000"/>
<rect x="367" y="148" width="1" height="12" fill="#ff0000"/>
<rect x="369" y="154" width="1" height="14" fill="#000"/>
<rect x="369" y="154" width="1" height="11" fill="#ff0000"/>
<rect x="371" y="162" width="1" height="19" fill="#000"/>
<rect x="371" y="167" width="1" height="7" fill="#ff0000"/>
<rect x="373" y="164" width="1" height="21" fill="#000"/>
<rect x="373" y="166" width="1" height="10" fill="#ff0000"/>
<rect x="376" y="159" width="1" height="18" fill="#000"/>
<rect x="376" y="159" width="1" height="18" fill="#0000ff"/>
<rect x="378" y="159" width="1" height="10" fill="#000"/>
<rect x="378" y="161" width="1" height="6" fill="#ff0000"/>
<rect x="380" y="154" width="1" height="16" fill="#000"/>
<rect x="380" y="159" width="1" height="8" fill="#0000ff"/>
<rect x="383" y="130" width="1" height="36" fill="#000"/>
<rect x="383" y="138" width="1" height="26" fill="#0000ff"/>
<rect x="385" y="124" width="1" height="14" fill="#000"/>
<rect x="385" y="125" width="1" height="13" fill="#0000ff"/>
<rect x="387" y="119" width="1" height="18" fill="#000"/>
<rect x="387" y="127" width="1" height="5" fill="#ff0000"/>
<rect x="389" y="121" width="1" height="19" fill="#000"/>
<rect x="389" y="124" width="1" height="8" fill="#0000ff"/>
<rect x="392" y="121" width="1" height="8" fill="#000"/>
<rect x="392" y="124" width="1" height="4" fill="#ff0000"/>
<rect x="394" y="109" width="1" height="19" fill="#000"/>
<rect x="394" y="109" width="1" height="19" fill="#0000ff"/>
<rect x="396" y="75" width="1" height="36" fill="#000"/>
<rect x="396" y="84" width="1" height="27" fill="#0000ff"/>
<rect x="399" y="65" width="1" height="49" fill="#000"/>
<rect x="399" y="83" width="1" height="18" fill="#ff0000"/>
<rect x="401" y="87" width="1" height="31" fill="#000"/>
<rect x="401" y="93" width="1" height="8" fill="#0000ff"/>
<rect x="403" y="67" width="1" height="36" fill="#000"/>
<rect x="403" y="83" width="1" height="16" fill="#0000ff"/>
<rect x="405" y="80" width="1" height="59" fill="#000"/>
<rect x="405" y="83" width="1" height="33" fill="#ff0000"/>
<rect x="408" y="101" width="1" height="18" fill="#000"/>
<rect x="408" y="112" width="1" height="4" fill="#0000ff"/>
<rect x="410" y="104" width="1" height="24" fill="#000"/>
<rect x="410" y="109" width="1" height="4" fill="#0000ff"/>
<rect x="412" y="107" width="1" height="29" fill="#000"/>
<rect x="412" y="109" width="1" height="13" fill="#ff0000"/>
<rect x="415" y="118" width="1" height="14" fill="#000"/>
<rect x="417" y="112" width="1" height="36" fill="#000"/>
<rect x="417" y="121" width="1" height="26" fill="#ff0000"/>
<rect x="419" y="144" width="1" height="22" fill="#000"/>
<rect x="419" y="145" width="1" height="7" fill="#ff0000"/>
<rect x="421" y="142" width="1" height="11" fill="#000"/>
<rect x="421" y="145" width="1" height="7" fill="#0000ff"/>
<rect x="424" y="149" width="1" height="55" fill="#000"/>
<rect x="424" y="150" width="1" height="43" fill="#ff0000"/>
<rect x="426" y="187" width="1" height="40" fill="#000"/>
<rect x="426" y="187" width="1" height="25" fill="#ff0000"/>
<rect x="428" y="187" width="1" height="26" fill="#000"/>
<rect x="428" y="201" width="1" height="10" fill="#0000ff"/>
<rect x="431" y="175" width="1" height="35" fill="#000"/>
<rect x="431" y="187" width="1" height="15" fill="#0000ff"/>
<rect x="433" y="178" width="1" height="22" fill="#000"/>
<rect x="433" y="179" width="1" height="9" fill="#0000ff"/>
<rect x="435" y="179" width="1" height="11" fill="#000"/>
<rect x="435" y="181" width="1" height="3" fill="#ff0000"/>
<rect x="437" y="161" width="1" height="24" fill="#000"/>
<rect x="437" y="162" width="1" height="21" fill="#0000ff"/>
<rect x="440" y="158" width="1" height="18" fill="#000"/>
<rect x="440" y="160" width="1" height="10" fill="#0000ff"/>
<rect x="442" y="154" width="1" height="15" fill="#000"/>
<rect x="442" y="155" width="1" height="14" fill="#0000ff"/>
<rect x="444" y="152" width="1" height="14" fill="#000"/>
<rect x="447" y="146" width="1" height="19" fill="#000"/>
<rect x="447" y="152" width="1" height="3" fill="#0000ff"/>
<rect x="449" y="145" width="1" height="10" fill="#000"/>
<rect x="449" y="149" width="1" height="3" fill="#ff0000"/>
<rect x="451" y="138" width="1" height="15" fill="#000"/>
<rect x="451" y="138" width="1" height="14" fill="#0000ff"/>
<rect x="454" y="135" width="1" height="36" fill="#000"/>
<rect x="454" y="140" width="1" height="29" fill="#ff0000"/>
<rect x="456" y="163" width="1" height="17" fill="#000"/>
<rect x="458" y="164" width="1" height="25" fill="#000"/>
<rect x="458" y="168" width="1" height="13" fill="#ff0000"/>
<rect x="460" y="172" width="1" height="33" fill="#000"/>
<rect x="460" y="178" width="1" height="4" fill="#ff0000"/>
<rect x="463" y="162" width="1" height="23" fill="#000"/>
<rect x="463" y="167" width="1" height="16" fill="#0000ff"/>
<rect x="465" y="151" width="1" height="21" fill="#000"/>
<rect x="465" y="151" width="1" height="21" fill="#0000ff"/>
<rect x="467" y="148" width="1" height="35" fill="#000"/>
<rect x="467" y="149" width="1" height="34" fill="#ff0000"/>
<rect x="470" y="177" width="1" height="21" fill="#000"/>
<rect x="470" y="178" width="1" height="3" fill="#0000ff"/>
<rect x="472" y="180" width="1" height="13" fill="#000"/>
<rect x="472" y="181" width="1" height="5" fill="#ff0000"/>
<rect x="474" y="176" width="1" height="14" fill="#000"/>
<rect x="474" y="177" width="1" height="9" fill="#0000ff"/>
<rect x="476" y="167" width="1" height="22" fill="#000"/>
<rect x="476" y="177" width="1" height="2" fill="#ff0000"/>
<rect x="479" y="174" width="1" height="16" fill="#000"/>
<rect x="479" y="179" width="1" height="9" fill="#ff0000"/>
<rect x="481" y="176" width="1" height="13" fill="#000"/>
<rect x="481" y="177" width="1" height="11" fill="#0000ff"/>
<rect x="483" y="177" width="1" height="37" fill="#000"/>
<rect x="483" y="178" width="1" height="29" fill="#ff0000"/>
<rect x="486" y="189" width="1" height="20" fill="#000"/>
<rect x="486" y="189" width="1" height="20" fill="#0000ff"/>
<rect x="488" y="178" width="1" height="18" fill="#000"/>
<rect x="488" y="180" width="1" height="15" fill="#0000ff"/>
<rect x="490" y="173" width="1" height="17" fill="#000"/>
<rect x="490" y="175" width="1" height="8" fill="#0000ff"/>
<rect x="492" y="173" width="1" height="12" fill="#000"/>
<rect x="492" y="175" width="1" height="5" fill="#ff0000"/>
<rect x="495" y="173" width="1" height="10" fill="#000"/>
<rect x="495" y="179" width="1" height="4" fill="#ff0000"/>
<rect x="497" y="179" width="1" height="14" fill="#000"/>
<rect x="497" y="179" width="1" height="10" fill="#ff0000"/>
<rect x="499" y="178" width="1" height="11" fill="#000"/>
<rect x="499" y="179" width="1" height="10" fill="#0000ff"/>
<rect x="502" y="167" width="1" height="16" fill="#000"/>
<rect x="502" y="168" width="1" height="15" fill="#0000ff"/>
<rect x="504" y="152" width="1" height="41" fill="#000"/>
<rect x="504" y="159" width="1" height="12" fill="#0000ff"/>
<rect x="506" y="151" width="1" height="11" fill="#000"/>
<rect x="508" y="149" width="1" height="11" fill="#000"/>
<rect x="508" y="149" width="1" height="10" fill="#0000ff"/>
<rect x="511" y="149" width="1" height="17" fill="#000"/>
<rect x="511" y="149" width="1" height="12" fill="#ff0000"/>
<rect x="513" y="151" width="1" height="17" fill="#000"/>
<rect x="513" y="153" width="1" height="8" fill="#0000ff"/>
<rect x="515" y="148" width="1" height="10" fill="#000"/>
<rect x="515" y="150" width="1" height="7" fill="#0000ff"/>
<rect x="518" y="144" width="1" height="12" fill="#000"/>
<rect x="518" y="145" width="1" height="10" fill="#0000ff"/>
<rect x="520" y="134" width="1" height="14" fill="#000"/>
<rect x="520" y="139" width="1" height="8" fill="#0000ff"/>
<rect x="522" y="135" width="1" height="10" fill="#000"/>
<rect x="524" y="136" width="1" height="8" fill="#000"/>
<rect x="524" y="138" width="1" height="2" fill="#0000ff"/>
<rect x="527" y="127" width="1" height="15" fill="#000"/>
<rect x="527" y="131" width="1" height="9" fill="#0000ff"/>
<rect x="529" y="130" width="1" height="11" fill="#000"/>
<rect x="529" y="131" width="1" height="8" fill="#ff0000"/>
<rect x="531" y="130" width="1" height="9" fill="#000"/>
<rect x="531" y="135" width="1" height="4" fill="#0000ff"/>
<rect x="534" y="136" width="1" height="17" fill="#000"/>
<rect x="534" y="136" width="1" height="10" fill="#ff0000"/>
<rect x="536" y="138" width="1" height="11" fill="#000"/>
<rect x="536" y="139" width="1" height="6" fill="#0000ff"/>
<rect x="538" y="134" width="1" height="8" fill="#000"/>
<rect x="538" y="134" width="1" height="7" fill="#0000ff"/>
<rect x="540" y="119" width="1" height="21" fill="#000"/>
<rect x="540" y="121" width="1" height="14" fill="#0000ff"/>
<rect x="543" y="119" width="1" height="9" fill="#000"/>
<rect x="543" y="121" width="1" height="2" fill="#ff0000"/>
<rect x="545" y="120" width="1" height="5" fill="#000"/>
<rect x="545" y="121" width="1" height="2" fill="#ff0000"/>
<rect x="547" y="120" width="1" height="6" fill="#000"/>
<rect x="547" y="122" width="1" height="2" fill="#ff0000"/>
<rect x="550" y="118" width="1" height="7" fill="#000"/>
<rect x="550" y="119" width="1" height="5" fill="#0000ff"/>
<rect x="552" y="118" width="1" height="4" fill="#000"/>
<rect x="554" y="116" width="1" height="9" fill="#000"/>
<rect x="554" y="117" width="1" height="6" fill="#0000ff"/>
<rect x="556" y="115" width="1" height="13" fill="#000"/>
<rect x="556" y="117" width="1" height="6" fill="#ff0000"/>
<rect x="559" y="121" width="1" height="6" fill="#000"/>
<rect x="559" y="122" width="1" height="2" fill="#ff0000"/>
<rect x="561" y="123" width="1" height="9" fill="#000"/>
<rect x="561" y="123" width="1" height="5" fill="#ff0000"/>
<rect x="563" y="102" width="1" height="30" fill="#000"/>
<rect x="563" y="104" width="1" height="24" fill="#0000ff"/>
<rect x="566" y="103" width="1" height="20" fill="#000"/>
<rect x="566" y="103" width="1" height="11" fill="#ff0000"/>
<rect x="568" y="112" width="1" height="9" fill="#000"/>
<rect x="568" y="113" width="1" height="4" fill="#ff0000"/>
<rect x="570" y="110" width="1" height="37" fill="#000"/>
<rect x="570" y="116" width="1" height="21" fill="#ff0000"/>
<rect x="572" y="122" width="1" height="17" fill="#000"/>
<rect x="572" y="125" width="1" height="12" fill="#0000ff"/>
<rect x="575" y="124" width="1" height="11" fill="#000"/>
<rect x="575" y="125" width="1" height="5" fill="#ff0000"/>
<rect x="577" y="107" width="1" height="33" fill="#000"/>
<rect x="577" y="113" width="1" height="17" fill="#0000ff"/>
<rect x="579" y="108" width="1" height="9" fill="#000"/>
<rect x="579" y="113" width="1" height="2" fill="#ff0000"/>
<rect x="582" y="109" width="1" height="8" fill="#000"/>
<rect x="582" y="110" width="1" height="6" fill="#0000ff"/>
<rect x="584" y="105" width="1" height="10" fill="#000"/>
<rect x="584" y="110" width="1" height="2" fill="#ff0000"/>
<rect x="586" y="98" width="1" height="18" fill="#000"/>
<rect x="586" y="98" width="1" height="14" fill="#0000ff"/>
<rect x="588" y="98" width="1" height="17" fill="#000"/>
<rect x="588" y="98" width="1" height="14" fill="#ff0000"/>
<rect x="591" y="107" width="1" height="7" fill="#000"/>
<rect x="591" y="107" width="1" height="6" fill="#0000ff"/>
<rect x="593" y="102" width="1" height="21" fill="#000"/>
<rect x="593" y="108" width="1" height="11" fill="#ff0000"/>
<rect x="595" y="106" width="1" height="17" fill="#000"/>
<rect x="595" y="110" width="1" height="9" fill="#0000ff"/>
<rect x="598" y="110" width="1" height="16" fill="#000"/>
<rect x="598" y="110" width="1" height="12" fill="#ff0000"/>
<rect x="600" y="112" width="1" height="19" fill="#000"/>
<rect x="600" y="119" width="1" height="3" fill="#0000ff"/>
<rect x="602" y="116" width="1" height="11" fill="#000"/>
<rect x="602" y="119" width="1" height="4" fill="#ff0000"/>
<rect x="604" y="119" width="1" height="7" fill="#000"/>
<rect x="604" y="120" width="1" height="4" fill="#0000ff"/>
<rect x="607" y="103" width="1" height="23" fill="#000"/>
<rect x="607" y="108" width="1" height="14" fill="#0000ff"/>
<rect x="609" y="106" width="1" height="11" fill="#000"/>
<rect x="609" y="107" width="1" height="9" fill="#ff0000"/>
<rect x="611" y="109" width="1" height="8" fill="#000"/>
<rect x="611" y="113" width="1" height="2" fill="#0000ff"/>
<rect x="614" y="110" width="1" height="28" fill="#000"/>
<rect x="614" y="113" width="1" height="10" fill="#ff0000"/>
<rect x="616" y="122" width="1" height="12" fill="#000"/>
<rect x="616" y="123" width="1" height="7" fill="#ff0000"/>
<rect x="618" y="129" width="1" height="6" fill="#000"/>
<rect x="618" y="129" width="1" height="3" fill="#ff0000"/>
<rect x="621" y="127" width="1" height="7" fill="#000"/>
<rect x="621" y="130" width="1" height="2" fill="#ff0000"/>
<rect x="623" y="127" width="1" height="15" fill="#000"/>
<rect x="623" y="133" width="1" height="8" fill="#ff0000"/>
<rect x="625" y="138" width="1" height="21" fill="#000"/>
<rect x="625" y="141" width="1" height="8" fill="#ff0000"/>
<rect x="627" y="139" width="1" height="12" fill="#000"/>
<rect x="627" y="147" width="1" height="3" fill="#0000ff"/>
<rect x="630" y="140" width="1" height="17" fill="#000"/>
<rect x="632" y="135" width="1" height="14" fill="#000"/>
<rect x="632" y="135" width="1" height="14" fill="#0000ff"/>
<rect x="634" y="135" width="1" height="10" fill="#000"/>
<rect x="634" y="136" width="1" height="6" fill="#ff0000"/>
<rect x="637" y="124" width="1" height="30" fill="#000"/>
<rect x="637" y="141" width="1" height="3" fill="#ff0000"/>
<rect x="639" y="127" width="1" height="22" fill="#000"/>
<rect x="639" y="134" width="1" height="10" fill="#0000ff"/>
<rect x="641" y="133" width="1" height="6" fill="#000"/>
<rect x="641" y="133" width="1" height="4" fill="#ff0000"/>
<rect x="643" y="127" width="1" height="17" fill="#000"/>
<rect x="643" y="134" width="1" height="4" fill="#0000ff"/>
<rect x="646" y="129" width="1" height="9" fill="#000"/>
<rect x="648" y="129" width="1" height="13" fill="#000"/>
<rect x="648" y="133" width="1" height="7" fill="#ff0000"/>
<rect x="650" y="114" width="1" height="28" fill="#000"/>
<rect x="650" y="116" width="1" height="25" fill="#0000ff"/>
<rect x="653" y="116" width="1" height="10" fill="#000"/>
<rect x="653" y="117" width="1" height="2" fill="#ff0000"/>
<rect x="655" y="116" width="1" height="5" fill="#000"/>
<rect x="657" y="116" width="1" height="9" fill="#000"/>
<rect x="657" y="118" width="1" height="3" fill="#ff0000"/>
<rect x="659" y="106" width="1" height="22" fill="#000"/>
<rect x="659" y="116" width="1" height="6" fill="#0000ff"/>
<rect x="662" y="112" width="1" height="8" fill="#000"/>
<rect x="662" y="117" width="1" height="2" fill="#ff0000"/>
<rect x="664" y="111" width="1" height="7" fill="#000"/>
<rect x="664" y="112" width="1" height="6" fill="#0000ff"/>
<rect x="666" y="105" width="1" height="11" fill="#000"/>
<rect x="666" y="111" width="1" height="2" fill="#0000ff"/>
<rect x="669" y="105" width="1" height="8" fill="#000"/>
<rect x="669" y="108" width="1" height="4" fill="#0000ff"/>
<rect x="671" y="106" width="1" height="5" fill="#000"/>
<rect x="671" y="107" width="1" height="4" fill="#0000ff"/>
<rect x="673" y="91" width="1" height="25" fill="#000"/>
<rect x="673" y="94" width="1" height="14" fill="#0000ff"/>
<rect x="675" y="91" width="1" height="21" fill="#000"/>
<rect x="675" y="94" width="1" height="13" fill="#ff0000"/>
<rect x="678" y="105" width="1" height="9" fill="#000"/>
<rect x="678" y="106" width="1" height="4" fill="#ff0000"/>
<rect x="680" y="110" width="1" height="44" fill="#000"/>
<rect x="680" y="111" width="1" height="33" fill="#ff0000"/>
<rect x="682" y="139" width="1" height="19" fill="#000"/>
<rect x="682" y="139" width="1" height="5" fill="#0000ff"/>
<rect x="685" y="137" width="1" height="14" fill="#000"/>
<rect x="685" y="139" width="1" height="10" fill="#ff0000"/>
<rect x="687" y="139" width="1" height="28" fill="#000"/>
<rect x="687" y="149" width="1" height="17" fill="#ff0000"/>
<rect x="689" y="159" width="1" height="18" fill="#000"/>
<rect x="689" y="160" width="1" height="9" fill="#ff0000"/>
<rect x="691" y="170" width="1" height="7" fill="#000"/>
<rect x="694" y="165" width="1" height="22" fill="#000"/>
<rect x="694" y="169" width="1" height="13" fill="#ff0000"/>
<rect x="696" y="168" width="1" height="14" fill="#000"/>
<rect x="696" y="170" width="1" height="12" fill="#0000ff"/>
</g>
<g shape-rendering="crispEdges">
</g>
<rect x="6.55" y="54.5" width="695.0500000000001" height="324.9" fill="none" stroke="#000" stroke-width="1.35"/>
<g shape-rendering="crispEdges">
<rect x="702" y="88" width="4" height="1" fill="#ff0000"/>
<rect x="702" y="117" width="4" height="1" fill="#ff0000"/>
<rect x="702" y="145" width="4" height="1" fill="#ff0000"/>
<rect x="702" y="173" width="4" height="1" fill="#ff0000"/>
<rect x="702" y="201" width="4" height="1" fill="#ff0000"/>
<rect x="702" y="229" width="4" height="1" fill="#ff0000"/>
<rect x="702" y="257" width="4" height="1" fill="#ff0000"/>
<rect x="702" y="285" width="4" height="1" fill="#ff0000"/>
<rect x="702" y="314" width="4" height="1" fill="#ff0000"/>
<rect x="702" y="342" width="4" height="1" fill="#ff0000"/>
<rect x="702" y="370" width="4" height="1" fill="#ff0000"/>
<rect x="41" y="380" width="1" height="2" fill="#ff0000"/>
<rect x="77" y="380" width="1" height="2" fill="#ff0000"/>
<rect x="114" y="380" width="1" height="2" fill="#ff0000"/>
<rect x="151" y="380" width="1" height="2" fill="#ff0000"/>
<rect x="187" y="380" width="1" height="2" fill="#ff0000"/>
<rect x="224" y="380" width="1" height="2" fill="#ff0000"/>
<rect x="260" y="380" width="1" height="2" fill="#ff0000"/>
<rect x="297" y="380" width="1" height="2" fill="#ff0000"/>
<rect x="334" y="380" width="1" height="2" fill="#ff0000"/>
<rect x="363" y="380" width="1" height="2" fill="#ff0000"/>
<rect x="399" y="380" width="1" height="2" fill="#ff0000"/>
<rect x="436" y="380" width="1" height="2" fill="#ff0000"/>
<rect x="473" y="380" width="1" height="2" fill="#ff0000"/>
<rect x="510" y="380" width="1" height="2" fill="#ff0000"/>
<rect x="546" y="380" width="1" height="2" fill="#ff0000"/>
<rect x="583" y="380" width="1" height="2" fill="#ff0000"/>
<rect x="620" y="380" width="1" height="2" fill="#ff0000"/>
<rect x="656" y="380" width="1" height="2" fill="#ff0000"/>
<rect x="693" y="380" width="1" height="2" fill="#ff0000"/>
</g>
<text x="707.5" y="91.9" font-family="'DejaVu Sans','Liberation Sans',sans-serif" font-size="10.5" fill="#000" font-weight="normal" text-anchor="start" textLength="46.8" lengthAdjust="spacingAndGlyphs" >1 560,00</text>
<text x="707.5" y="120.9" font-family="'DejaVu Sans','Liberation Sans',sans-serif" font-size="10.5" fill="#000" font-weight="normal" text-anchor="start" textLength="46.8" lengthAdjust="spacingAndGlyphs" >1 540,00</text>
<text x="707.5" y="148.9" font-family="'DejaVu Sans','Liberation Sans',sans-serif" font-size="10.5" fill="#000" font-weight="normal" text-anchor="start" textLength="46.8" lengthAdjust="spacingAndGlyphs" >1 520,00</text>
<text x="707.5" y="176.9" font-family="'DejaVu Sans','Liberation Sans',sans-serif" font-size="10.5" fill="#000" font-weight="normal" text-anchor="start" textLength="46.8" lengthAdjust="spacingAndGlyphs" >1 500,00</text>
<text x="707.5" y="204.9" font-family="'DejaVu Sans','Liberation Sans',sans-serif" font-size="10.5" fill="#000" font-weight="normal" text-anchor="start" textLength="46.8" lengthAdjust="spacingAndGlyphs" >1 480,00</text>
<text x="707.5" y="232.9" font-family="'DejaVu Sans','Liberation Sans',sans-serif" font-size="10.5" fill="#000" font-weight="normal" text-anchor="start" textLength="46.8" lengthAdjust="spacingAndGlyphs" >1 460,00</text>
<text x="707.5" y="260.9" font-family="'DejaVu Sans','Liberation Sans',sans-serif" font-size="10.5" fill="#000" font-weight="normal" text-anchor="start" textLength="46.8" lengthAdjust="spacingAndGlyphs" >1 440,00</text>
<text x="707.5" y="288.9" font-family="'DejaVu Sans','Liberation Sans',sans-serif" font-size="10.5" fill="#000" font-weight="normal" text-anchor="start" textLength="46.8" lengthAdjust="spacingAndGlyphs" >1 420,00</text>
<text x="707.5" y="317.9" font-family="'DejaVu Sans','Liberation Sans',sans-serif" font-size="10.5" fill="#000" font-weight="normal" text-anchor="start" textLength="46.8" lengthAdjust="spacingAndGlyphs" >1 400,00</text>
<text x="707.5" y="345.9" font-family="'DejaVu Sans','Liberation Sans',sans-serif" font-size="10.5" fill="#000" font-weight="normal" text-anchor="start" textLength="46.8" lengthAdjust="spacingAndGlyphs" >1 380,00</text>
<text x="707.5" y="373.9" font-family="'DejaVu Sans','Liberation Sans',sans-serif" font-size="10.5" fill="#000" font-weight="normal" text-anchor="start" textLength="46.8" lengthAdjust="spacingAndGlyphs" >1 360,00</text>
<text x="646.8" y="244.1" font-family="'DejaVu Sans','Liberation Sans',sans-serif" font-size="12.3" fill="#0000ff" font-weight="normal" text-anchor="start" textLength="53.6" lengthAdjust="spacingAndGlyphs" >1 447,77</text>
<rect x="704.4" y="164.6" width="53.1" height="9.5" fill="#fff" stroke="#ff0000" stroke-width="1.05"/>
<text x="708.3" y="172.5" font-family="'DejaVu Sans','Liberation Sans',sans-serif" font-size="10.5" fill="#0000ff" font-weight="normal" text-anchor="start" textLength="45.5" lengthAdjust="spacingAndGlyphs" >1 502,65</text>
<rect x="704.4" y="339.7" width="53.1" height="9.600000000000023" fill="#fff" stroke="#ff0000" stroke-width="1.05"/>
<text x="708.3" y="347.7" font-family="'DejaVu Sans','Liberation Sans',sans-serif" font-size="10.5" fill="#0000ff" font-weight="normal" text-anchor="start" textLength="45.5" lengthAdjust="spacingAndGlyphs" >1 378,38</text>
<text x="151.0" y="392.7" font-family="'DejaVu Sans','Liberation Sans',sans-serif" font-size="11" fill="#000" font-weight="normal" text-anchor="middle" >14</text>
<text x="187.2" y="392.7" font-family="'DejaVu Sans','Liberation Sans',sans-serif" font-size="11" fill="#000" font-weight="normal" text-anchor="middle" >21</text>
<text x="224.2" y="392.7" font-family="'DejaVu Sans','Liberation Sans',sans-serif" font-size="11" fill="#000" font-weight="normal" text-anchor="middle" >28</text>
<text x="260.2" y="392.7" font-family="'DejaVu Sans','Liberation Sans',sans-serif" font-size="11" fill="#000" font-weight="normal" text-anchor="middle" >04</text>
<text x="296.7" y="392.7" font-family="'DejaVu Sans','Liberation Sans',sans-serif" font-size="11" fill="#000" font-weight="normal" text-anchor="middle" >11</text>
<text x="333.95" y="392.7" font-family="'DejaVu Sans','Liberation Sans',sans-serif" font-size="11" fill="#000" font-weight="normal" text-anchor="middle" >18</text>
<text x="362.95" y="392.7" font-family="'DejaVu Sans','Liberation Sans',sans-serif" font-size="11" fill="#000" font-weight="normal" text-anchor="middle" >25</text>
<text x="399.2" y="392.7" font-family="'DejaVu Sans','Liberation Sans',sans-serif" font-size="11" fill="#000" font-weight="normal" text-anchor="middle" >02</text>
<text x="435.95" y="392.7" font-family="'DejaVu Sans','Liberation Sans',sans-serif" font-size="11" fill="#000" font-weight="normal" text-anchor="middle" >09</text>
<text x="472.95" y="392.7" font-family="'DejaVu Sans','Liberation Sans',sans-serif" font-size="11" fill="#000" font-weight="normal" text-anchor="middle" >16</text>
<text x="509.95" y="392.7" font-family="'DejaVu Sans','Liberation Sans',sans-serif" font-size="11" fill="#000" font-weight="normal" text-anchor="middle" >23</text>
<text x="546.2" y="392.7" font-family="'DejaVu Sans','Liberation Sans',sans-serif" font-size="11" fill="#000" font-weight="normal" text-anchor="middle" >30</text>
<text x="583.45" y="392.7" font-family="'DejaVu Sans','Liberation Sans',sans-serif" font-size="11" fill="#000" font-weight="normal" text-anchor="middle" >06</text>
<text x="620.45" y="392.7" font-family="'DejaVu Sans','Liberation Sans',sans-serif" font-size="11" fill="#000" font-weight="normal" text-anchor="middle" >13</text>
<text x="656.45" y="392.7" font-family="'DejaVu Sans','Liberation Sans',sans-serif" font-size="11" fill="#000" font-weight="normal" text-anchor="middle" >20</text>
<text x="692.95" y="392.7" font-family="'DejaVu Sans','Liberation Sans',sans-serif" font-size="11" fill="#000" font-weight="normal" text-anchor="middle" >27</text>
<rect x="6.5" y="382.5" width="135" height="14" fill="#fff" stroke="#ff0000" stroke-width="1"/>
<text x="9" y="392.7" font-family="'DejaVu Sans','Liberation Sans',sans-serif" font-size="11" fill="#0000ff" font-weight="normal" text-anchor="start" textLength="129" lengthAdjust="spacingAndGlyphs" >févr./15/2011 01:00:00</text>
<text x="9" y="406.7" font-family="'DejaVu Sans','Liberation Sans',sans-serif" font-size="11" fill="#000" font-weight="normal" text-anchor="start" textLength="63" lengthAdjust="spacingAndGlyphs" >févr./21/11</text>
<text x="91" y="406.7" font-family="'DejaVu Sans','Liberation Sans',sans-serif" font-size="11" fill="#000" font-weight="normal" text-anchor="start" textLength="46" lengthAdjust="spacingAndGlyphs" >mars/07</text>
<text x="240" y="406.7" font-family="'DejaVu Sans','Liberation Sans',sans-serif" font-size="11" fill="#000" font-weight="normal" text-anchor="start" textLength="40" lengthAdjust="spacingAndGlyphs" >avr./04</text>
<text x="380" y="406.7" font-family="'DejaVu Sans','Liberation Sans',sans-serif" font-size="11" fill="#000" font-weight="normal" text-anchor="start" textLength="38" lengthAdjust="spacingAndGlyphs" >mai/02</text>
<text x="562" y="406.7" font-family="'DejaVu Sans','Liberation Sans',sans-serif" font-size="11" fill="#000" font-weight="normal" text-anchor="start" textLength="41" lengthAdjust="spacingAndGlyphs" >juin/06</text>
<clipPath id="wmc"><rect x="8" y="371" width="690" height="7"/></clipPath>
<g clip-path="url(#wmc)">
<text transform="translate(22.0,376.4) scale(0.8,1)" font-family="'Liberation Sans','DejaVu Sans',sans-serif" font-size="14" fill="#7c6c12" text-anchor="middle">G</text>
<text transform="translate(41.7,376.4) scale(0.8,1)" font-family="'Liberation Sans','DejaVu Sans',sans-serif" font-size="14" fill="#7c6c12" text-anchor="middle">O</text>
<text transform="translate(57.8,376.4) scale(0.8,1)" font-family="'Liberation Sans','DejaVu Sans',sans-serif" font-size="14" fill="#7c6c12" text-anchor="middle">L</text>
<text transform="translate(73.7,376.4) scale(0.8,1)" font-family="'Liberation Sans','DejaVu Sans',sans-serif" font-size="14" fill="#7c6c12" text-anchor="middle">D</text>
<text transform="translate(91.0,376.4) scale(0.8,1)" font-family="'Liberation Sans','DejaVu Sans',sans-serif" font-size="14" fill="#7c6c12" text-anchor="middle">P</text>
<text transform="translate(108.0,376.4) scale(0.8,1)" font-family="'Liberation Sans','DejaVu Sans',sans-serif" font-size="14" fill="#7c6c12" text-anchor="middle">R</text>
<text transform="translate(122.5,376.4) scale(0.8,1)" font-family="'Liberation Sans','DejaVu Sans',sans-serif" font-size="14" fill="#7c6c12" text-anchor="middle">I</text>
<text transform="translate(136.5,376.4) scale(0.8,1)" font-family="'Liberation Sans','DejaVu Sans',sans-serif" font-size="14" fill="#7c6c12" text-anchor="middle">C</text>
<text transform="translate(153.5,376.4) scale(0.8,1)" font-family="'Liberation Sans','DejaVu Sans',sans-serif" font-size="14" fill="#7c6c12" text-anchor="middle">E</text>
<text transform="translate(167.7,376.4) scale(0.8,1)" font-family="'Liberation Sans','DejaVu Sans',sans-serif" font-size="14" fill="#7c6c12" text-anchor="middle">.</text>
<text transform="translate(176.7,376.4) scale(0.8,1)" font-family="'Liberation Sans','DejaVu Sans',sans-serif" font-size="14" fill="#7c6c12" text-anchor="middle">O</text>
<text transform="translate(192.0,376.4) scale(0.8,1)" font-family="'Liberation Sans','DejaVu Sans',sans-serif" font-size="14" fill="#7c6c12" text-anchor="middle">R</text>
<text transform="translate(210.0,376.4) scale(0.8,1)" font-family="'Liberation Sans','DejaVu Sans',sans-serif" font-size="14" fill="#7c6c12" text-anchor="middle">G</text>
</g>
<defs><radialGradient id="gb" cx="40%" cy="35%" r="65%"><stop offset="0" stop-color="#7ee0a8"/><stop offset="0.6" stop-color="#2fa868"/><stop offset="1" stop-color="#1b8a50"/></radialGradient></defs>
<circle cx="14" cy="430" r="6.5" fill="url(#gb)" stroke="#1c8a52" stroke-width="0.8"/>
<line x1="27.5" y1="422" x2="27.5" y2="438" stroke="#888" stroke-width="1" stroke-dasharray="1,1.5"/>
<text x="35.5" y="434.4" font-family="'Liberation Sans','DejaVu Sans',sans-serif" font-size="12" fill="#858585" font-weight="bold" text-anchor="start" textLength="155" lengthAdjust="spacing" >27 juin 2011 12:22:23 CEST</text>
</svg>
</body></html>
